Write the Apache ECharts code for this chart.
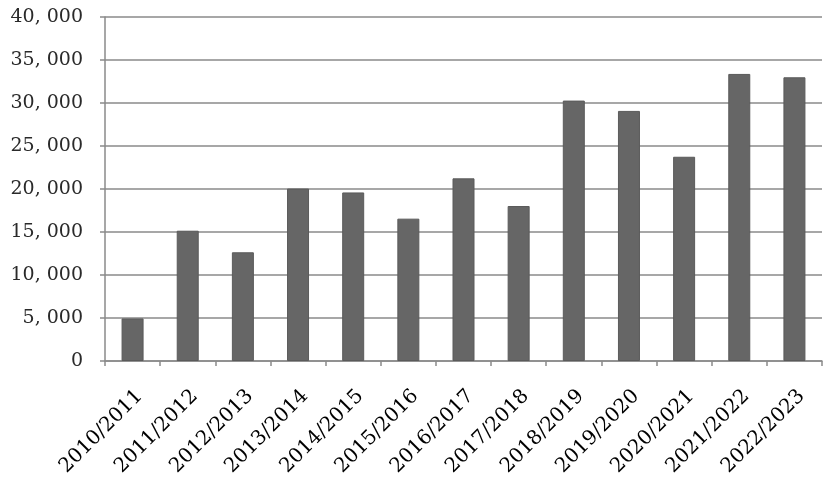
<!DOCTYPE html>
<html><head><meta charset="utf-8">
<script src="https://cdn.jsdelivr.net/npm/echarts@6/dist/echarts.min.js"></script>
<style>html,body{margin:0;padding:0;background:#fff}#c{width:833px;height:486px}</style>
</head><body><div id="c"></div>
<script>
const categories = ['2010/2011','2011/2012','2012/2013','2013/2014','2014/2015','2015/2016','2016/2017','2017/2018','2018/2019','2019/2020','2020/2021','2021/2022','2022/2023'];
const values = [4950, 15150, 12640, 20050, 19600, 16550, 21240, 18020, 30280, 29080, 23750, 33380, 32990];
const yMin = 0, yMax = 40000, yStep = 5000;

function fmt(v){
  if (v === 0) return '0';
  const s = String(v);
  return s.slice(0, s.length-3) + ', ' + s.slice(s.length-3);
}

const chart = echarts.init(document.getElementById('c'));
chart.setOption({
  animation: false,
  backgroundColor: '#fff',
  grid: { left: 105, right: 11, top: 17, bottom: 125 },
  xAxis: {
    type: 'category',
    data: categories,
    axisLine: { lineStyle: { color: '#8a8a8a', width: 1.5 } },
    axisTick: { show: true, length: 5, lineStyle: { color: '#8a8a8a', width: 1.5 } },
    axisLabel: { rotate: 45, interval: 0, margin: 25, verticalAlign: 'top', fontFamily: 'DejaVu Serif', fontSize: 20, color: '#000' }
  },
  yAxis: {
    type: 'value', min: yMin, max: yMax, interval: yStep,
    axisLine: { show: true, lineStyle: { color: '#8a8a8a', width: 1.5 } },
    axisTick: { show: true, length: 5, lineStyle: { color: '#8a8a8a', width: 1.5 } },
    splitLine: { lineStyle: { color: '#8a8a8a', width: 1.5 } },
    axisLabel: { formatter: fmt, margin: 22, fontFamily: 'DejaVu Serif', fontSize: 19, color: '#2a2a2a' }
  },
  series: [{
    type: 'bar', data: values, barWidth: 22,
    itemStyle: { color: '#666666', borderColor: '#5a5a5a', borderWidth: 1 }
  }]
});
</script></body></html>
